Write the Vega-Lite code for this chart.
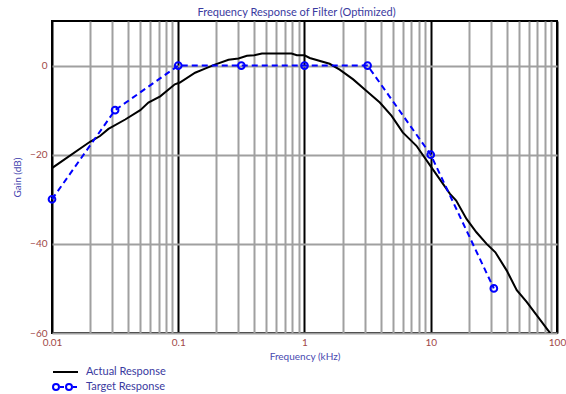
{
  "$schema": "https://vega.github.io/schema/vega-lite/v6.json",
  "width": 505,
  "height": 312,
  "autosize": {"type": "none"},
  "padding": {"left": 52, "top": 21, "right": 9, "bottom": 61},
  "title": {"text": "Frequency Response of Filter (Optimized)", "fontSize": 11, "fontWeight": "normal", "color": "#3a3aa0", "font": "Lato", "offset": 3, "dx": -8},
  "config": {"view": {"stroke": "black", "strokeWidth": 2}, "font": "Lato"},
  "data": {"values": [
    {"f": 0.01, "g": -23, "s": "Actual Response"},
    {"f": 0.02, "g": -17.1, "s": "Actual Response"},
    {"f": 0.024, "g": -15.8, "s": "Actual Response"},
    {"f": 0.028, "g": -14.2, "s": "Actual Response"},
    {"f": 0.038, "g": -12.1, "s": "Actual Response"},
    {"f": 0.05, "g": -10, "s": "Actual Response"},
    {"f": 0.058, "g": -8.3, "s": "Actual Response"},
    {"f": 0.072, "g": -6.9, "s": "Actual Response"},
    {"f": 0.094, "g": -4.2, "s": "Actual Response"},
    {"f": 0.103, "g": -3.8, "s": "Actual Response"},
    {"f": 0.136, "g": -1.6, "s": "Actual Response"},
    {"f": 0.163, "g": -0.7, "s": "Actual Response"},
    {"f": 0.195, "g": 0.2, "s": "Actual Response"},
    {"f": 0.25, "g": 1.3, "s": "Actual Response"},
    {"f": 0.3, "g": 1.6, "s": "Actual Response"},
    {"f": 0.35, "g": 2.2, "s": "Actual Response"},
    {"f": 0.4, "g": 2.3, "s": "Actual Response"},
    {"f": 0.46, "g": 2.7, "s": "Actual Response"},
    {"f": 0.79, "g": 2.7, "s": "Actual Response"},
    {"f": 0.87, "g": 2.3, "s": "Actual Response"},
    {"f": 1.0, "g": 2.3, "s": "Actual Response"},
    {"f": 1.1, "g": 1.7, "s": "Actual Response"},
    {"f": 1.58, "g": 0.4, "s": "Actual Response"},
    {"f": 1.9, "g": -0.9, "s": "Actual Response"},
    {"f": 2.43, "g": -3.1, "s": "Actual Response"},
    {"f": 3.1, "g": -5.7, "s": "Actual Response"},
    {"f": 3.95, "g": -8.3, "s": "Actual Response"},
    {"f": 4.9, "g": -11.3, "s": "Actual Response"},
    {"f": 6.0, "g": -15, "s": "Actual Response"},
    {"f": 6.8, "g": -16.5, "s": "Actual Response"},
    {"f": 7.7, "g": -18, "s": "Actual Response"},
    {"f": 10, "g": -22.6, "s": "Actual Response"},
    {"f": 14.2, "g": -28.8, "s": "Actual Response"},
    {"f": 15.9, "g": -30.3, "s": "Actual Response"},
    {"f": 19.2, "g": -34.4, "s": "Actual Response"},
    {"f": 23, "g": -37.4, "s": "Actual Response"},
    {"f": 27.7, "g": -40, "s": "Actual Response"},
    {"f": 32.5, "g": -41.9, "s": "Actual Response"},
    {"f": 40, "g": -46, "s": "Actual Response"},
    {"f": 48, "g": -50.4, "s": "Actual Response"},
    {"f": 57.5, "g": -53, "s": "Actual Response"},
    {"f": 85, "g": -59.4, "s": "Actual Response"},
    {"f": 90, "g": -60.3, "s": "Actual Response"},
    {"f": 0.01, "g": -30, "s": "Target Response"},
    {"f": 0.0316, "g": -10, "s": "Target Response"},
    {"f": 0.1, "g": 0, "s": "Target Response"},
    {"f": 0.316, "g": 0, "s": "Target Response"},
    {"f": 1, "g": 0, "s": "Target Response"},
    {"f": 3.16, "g": 0, "s": "Target Response"},
    {"f": 10, "g": -20, "s": "Target Response"},
    {"f": 31.6, "g": -50, "s": "Target Response"}
  ]},
  "encoding": {
    "x": {"field": "f", "type": "quantitative",
      "scale": {"type": "log", "domain": [0.01, 100], "nice": false},
      "axis": {
        "title": "Frequency (kHz)",
        "values": [0.01,0.02,0.03,0.04,0.05,0.06,0.07,0.08,0.09,0.1,0.2,0.3,0.4,0.5,0.6,0.7,0.8,0.9,1,2,3,4,5,6,7,8,9,10,20,30,40,50,60,70,80,90,100],
        "labelExpr": "abs(log(datum.value)/LN10 - round(log(datum.value)/LN10)) < 0.001 ? format(datum.value, '~g') : ''",
        "labelOverlap": false,
        "labelFlush": false,
        "grid": true,
        "gridColor": {"condition": {"test": "abs(log(datum.value)/LN10 - round(log(datum.value)/LN10)) < 0.001", "value": "black"}, "value": "#a0a0a0"},
        "gridWidth": 2,
        "gridOpacity": 1,
        "ticks": false,
        "domain": false,
        "labelColor": "#a04848",
        "labelFontSize": 10,
        "labelPadding": 4,
        "titleColor": "#4848b0",
        "titleFontSize": 10,
        "titleFontWeight": "normal",
        "titlePadding": 4
      }
    },
    "y": {"field": "g", "type": "quantitative",
      "scale": {"domain": [-60, 10], "nice": false, "zero": false},
      "axis": {
        "title": "Gain (dB)",
        "values": [-60, -40, -20, 0],
        "grid": true,
        "gridColor": "#a0a0a0",
        "gridWidth": 2,
        "gridOpacity": 1,
        "ticks": false,
        "domain": false,
        "labelColor": "#a04848",
        "labelFontSize": 10,
        "labelPadding": 5,
        "titleColor": "#4848b0",
        "titleFontSize": 10,
        "titleFontWeight": "normal",
        "titlePadding": 7
      }
    }
  },
  "layer": [
    {
      "transform": [{"filter": "datum.s === 'Actual Response'"}],
      "mark": {"type": "line", "strokeWidth": 2, "clip": true},
      "encoding": {
        "color": {"field": "s", "type": "nominal",
          "scale": {"domain": ["Actual Response", "Target Response"], "range": ["black", "#0000ff"]},
          "legend": {
            "title": null,
            "orient": "none",
            "legendX": 0,
            "legendY": 342,
            "direction": "vertical",
            "symbolSize": 256,
            "symbolStrokeWidth": 2,
            "rowPadding": 1,
            "labelFont": "Lato",
            "labelFontSize": 11,
            "labelColor": "#3a3aa0",
            "labelOffset": 16,
            "padding": 0,
            "encoding": {"symbols": {"shape": {"condition": {"test": "datum.value === 'Target Response'", "value": "M-1,0 A0.375,0.375 0 1,0 -0.25,0 A0.375,0.375 0 1,0 -1,0 M-0.125,0 H0.375 M0.625,0 A0.375,0.375 0 1,0 1.375,0 A0.375,0.375 0 1,0 0.625,0 M1.5,0 H2"}, "value": "M-1,0 H2.125"}}}
          }
        }
      }
    },
    {
      "transform": [{"filter": "datum.s === 'Target Response'"}],
      "mark": {"type": "line", "strokeWidth": 2, "strokeDash": [6, 4]},
      "encoding": {
        "color": {"field": "s", "type": "nominal"}
      }
    },
    {
      "transform": [{"filter": "datum.s === 'Target Response'"}],
      "mark": {"type": "point", "filled": false, "size": 45, "strokeWidth": 2, "color": "#0000ff", "opacity": 1}
    }
  ]
}
